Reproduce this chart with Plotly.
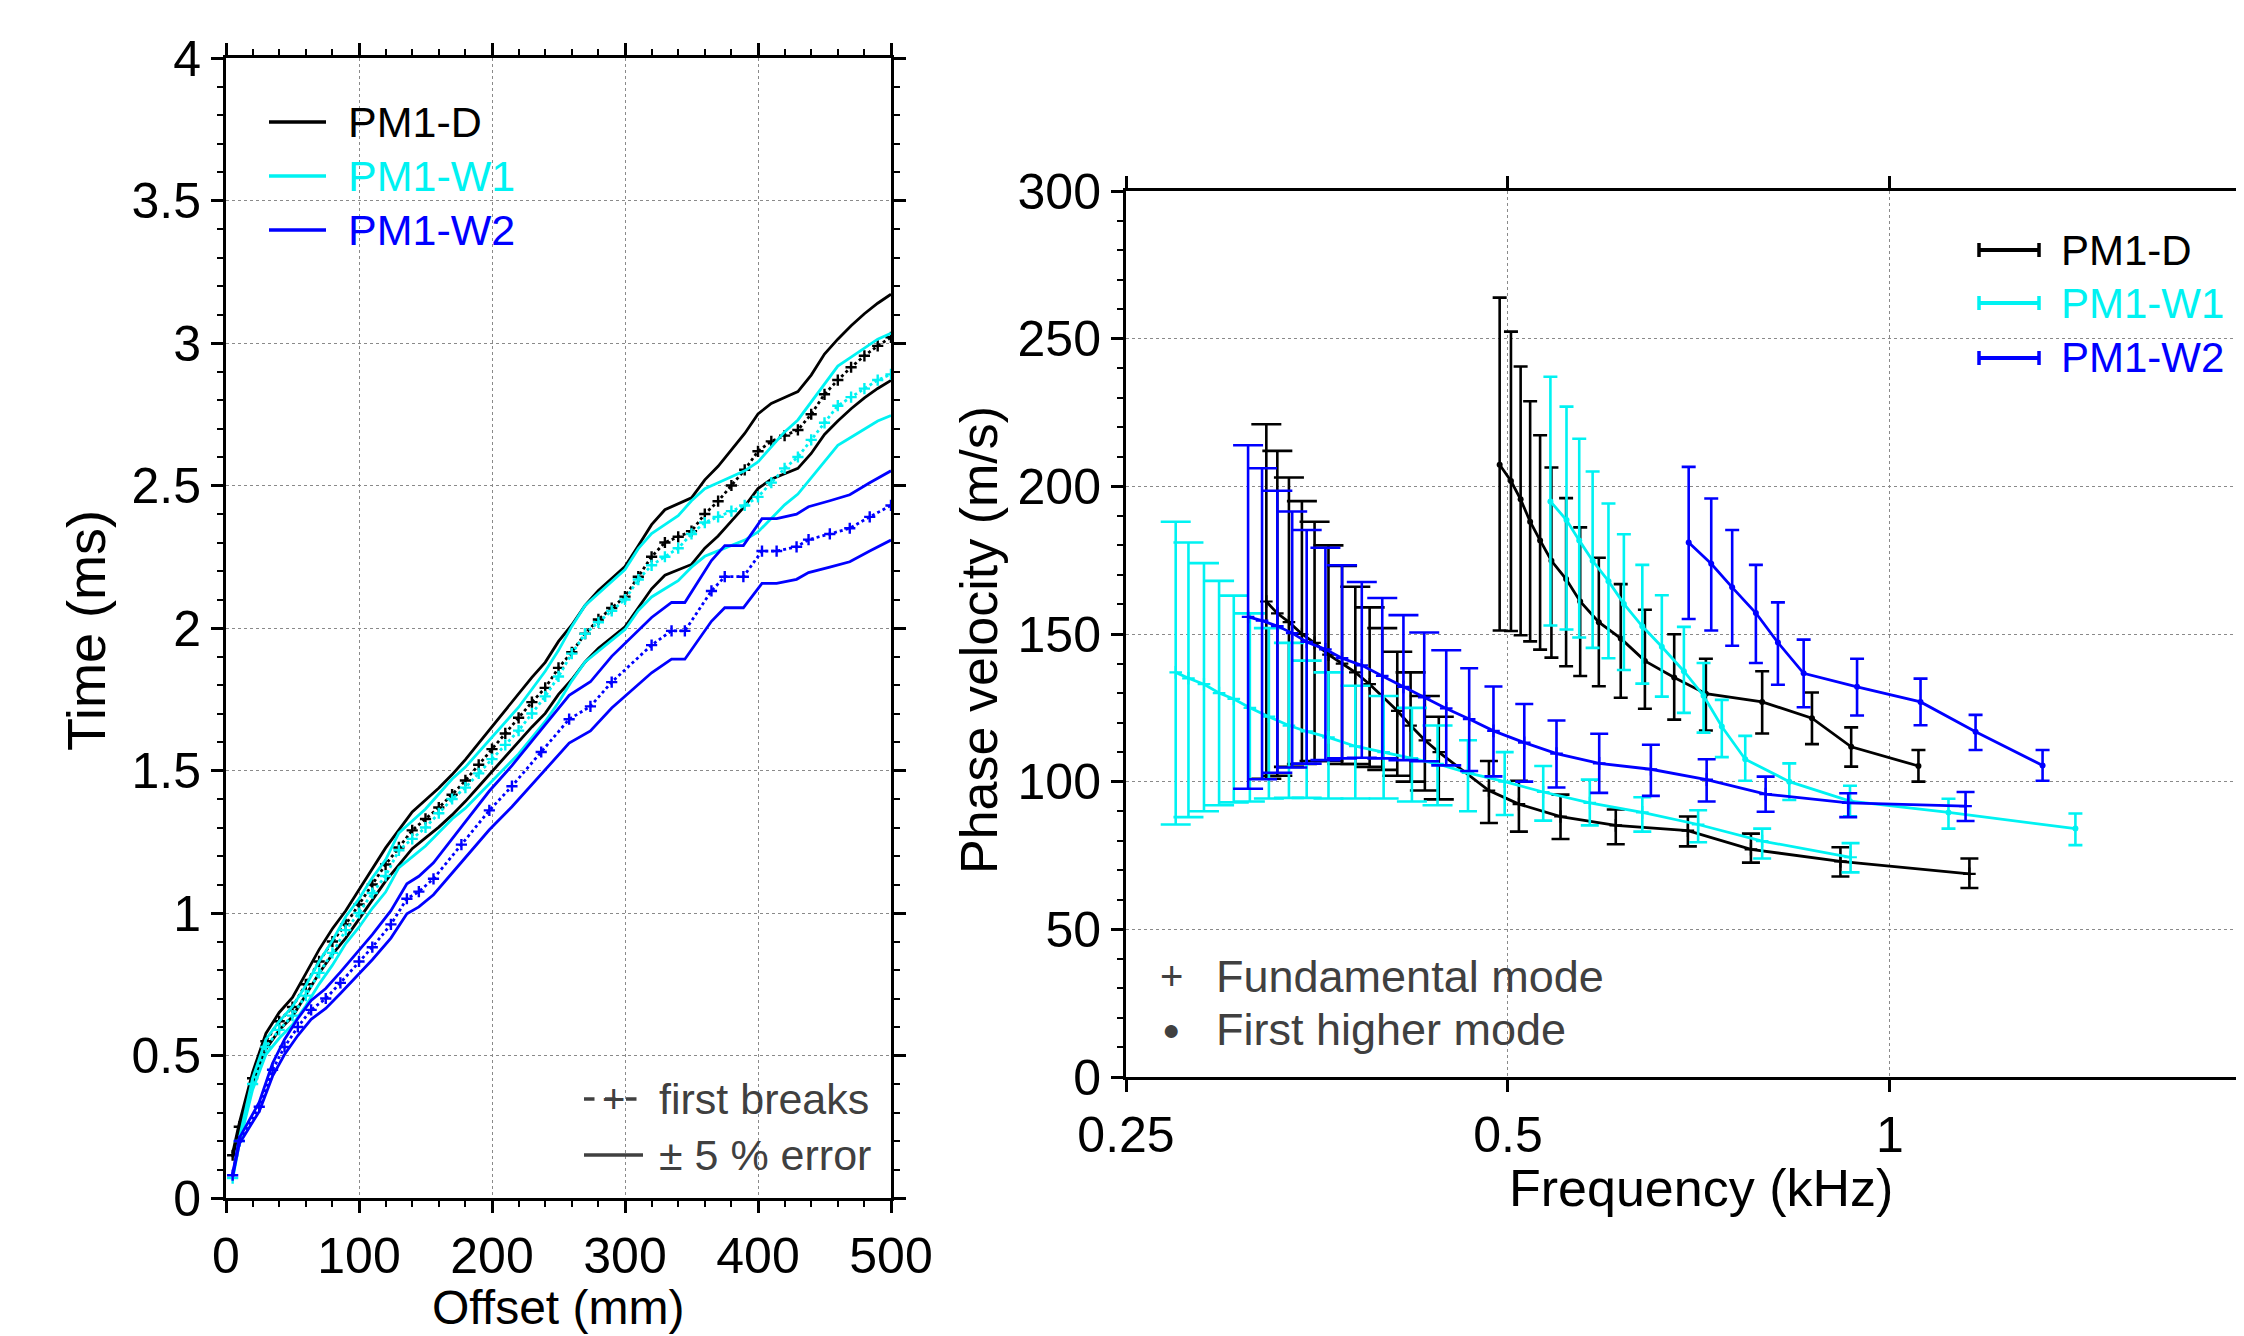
import math
import plotly.graph_objects as go

# Page size; the browser places the figure 8 px in from the top-left corner
PAGE_W, PAGE_H = 2244, 1336
OFF = 8
W, H = PAGE_W - OFF, PAGE_H - OFF

# ---------------- Left panel: first-break travel times ----------------
offset_D = [5] + list(range(10, 501, 10))
time_D = [0.15, 0.25, 0.42, 0.55, 0.62, 0.67, 0.75, 0.83, 0.90, 0.96,
          1.03, 1.10, 1.17, 1.23, 1.29, 1.33, 1.37, 1.415, 1.465, 1.52,
          1.575, 1.63, 1.685, 1.74, 1.79, 1.86, 1.915, 1.98, 2.03, 2.07,
          2.11, 2.18, 2.25, 2.30, 2.32, 2.34, 2.40, 2.445, 2.50, 2.555,
          2.62, 2.655, 2.675, 2.695, 2.75, 2.82, 2.87, 2.915, 2.955, 2.99,
          3.02]
offset_W1 = [5] + list(range(10, 501, 10))
time_W1 = [0.07, 0.20, 0.40, 0.53, 0.59, 0.64, 0.71, 0.79, 0.86, 0.94,
           1.00, 1.07, 1.13, 1.22, 1.26, 1.30, 1.35, 1.40, 1.44, 1.49,
           1.54, 1.59, 1.64, 1.70, 1.76, 1.83, 1.91, 1.98, 2.02, 2.06,
           2.10, 2.17, 2.22, 2.25, 2.28, 2.33, 2.37, 2.39, 2.41, 2.43,
           2.46, 2.51, 2.56, 2.60, 2.66, 2.72, 2.78, 2.81, 2.84, 2.87,
           2.89]
offset_W2 = [5, 10, 25, 35, 44, 54, 64, 75, 86, 100, 110, 124, 136, 145, 156,
             177, 198, 215, 237, 258, 274, 290, 320, 335, 345, 365, 375, 389,
             403, 414, 429, 438, 454, 469, 484, 500]
time_W2 = [0.08, 0.20, 0.32, 0.45, 0.53, 0.60, 0.66, 0.70, 0.755, 0.83, 0.88,
           0.96, 1.05, 1.075, 1.12, 1.24, 1.36, 1.445, 1.565, 1.68, 1.725,
           1.81, 1.94, 1.99, 1.99, 2.13, 2.18, 2.18, 2.27, 2.27, 2.285, 2.31,
           2.33, 2.35, 2.39, 2.43]
error_fraction = 0.05

# ---------------- Right panel: dispersion curves ----------------
# PM1-D
D_fund_f = [0.3225, 0.329, 0.336, 0.344, 0.352, 0.361, 0.370, 0.379, 0.389, 0.398, 0.409,
            0.419, 0.430, 0.441, 0.483, 0.510, 0.550, 0.608, 0.693, 0.777, 0.914, 1.155]
D_fund_v = [161, 157, 154, 150, 147, 143, 140, 137, 133, 129, 124,
            119, 114, 110, 97, 92.4, 88.2, 85.2, 83.4, 77.1, 73.0, 68.8]
D_fund_hi = [221, 212, 203, 195, 188, 180, 173, 166, 159, 152, 144,
             137, 129, 122, 107, 100.3, 95.6, 90.6, 88.2, 82.4, 77.8, 74.0]
D_fund_lo = [101, 102, 105, 106, 107, 107, 106, 106, 105, 104, 102,
             100, 97, 94, 86, 83.1, 80.6, 78.8, 78.1, 72.6, 67.9, 64.0]
D_high_f = [0.4925, 0.5027, 0.5116, 0.5205, 0.530, 0.541, 0.5556, 0.570, 0.5896,
            0.6135, 0.641, 0.676, 0.716, 0.793, 0.868, 0.932, 1.053]
D_high_v = [207.3, 201.8, 195.6, 188, 181.7, 174.8, 168.6, 161, 154,
            148.5, 140.9, 135.3, 129.8, 127, 121.5, 111.8, 105.3]
D_high_hi = [263.9, 252.4, 240.6, 228.8, 217.3, 206.4, 196, 186.1, 175.8,
             166.9, 158.2, 149.9, 141.6, 137.4, 130.2, 118.4, 110.7]
D_high_lo = [151.2, 151, 149.6, 147.5, 144.7, 142, 139.1, 135.8, 132.3,
             128.4, 124.7, 121, 117.3, 116.3, 112.7, 105.1, 100]

# PM1-W1
W1_fund_f = [0.2736, 0.280, 0.288, 0.296, 0.304, 0.313, 0.324, 0.336, 0.347, 0.361, 0.379,
             0.399, 0.420, 0.440, 0.465, 0.497, 0.533, 0.580, 0.638, 0.706, 0.793, 0.931]
W1_fund_v = [137, 135, 133, 130, 128, 125, 122, 119, 117, 115, 112,
             110, 108, 106, 103, 100, 96.5, 92.8, 89.6, 85.5, 79.9, 74.4]
W1_fund_hi = [188, 181, 174, 168, 163, 157, 152, 147, 141, 137, 132.5,
              129, 125, 119, 114, 110, 105.3, 100.7, 94.7, 90.3, 84.1, 79.2]
W1_fund_lo = [85.5, 88, 90, 92, 93, 93.3, 94.3, 94.5, 94.5, 94.3, 94.3,
              94.3, 93.3, 92, 90, 88.7, 86.8, 85.2, 83.1, 79.5, 74, 69.3]
W1_high_f = [0.540, 0.556, 0.569, 0.583, 0.600, 0.617, 0.638, 0.661, 0.688,
             0.713, 0.737, 0.769, 0.833, 0.930, 1.112, 1.40]
W1_high_v = [194.9, 188.6, 181.7, 174.8, 167.9, 160.2, 152.6, 145.7, 137.4,
             129.1, 118.7, 107.6, 100, 93.4, 89.6, 84.1]
W1_high_hi = [237.1, 227, 216.1, 205, 194.2, 183.8, 173.4, 163.1, 152.4,
              140.2, 127.7, 115.5, 106.2, 98.6, 94.2, 89.2]
W1_high_lo = [152.9, 151.5, 148.8, 145.3, 141.8, 137.8, 133.2, 128.8, 123.3,
              116.6, 108.3, 100.3, 93.8, 88.3, 84.1, 78.5]

# PM1-W2
W2_fund_f = [0.312, 0.320, 0.329, 0.338, 0.347, 0.359, 0.370, 0.3835, 0.398, 0.4136, 0.4295,
             0.447, 0.466, 0.487, 0.515, 0.546, 0.590, 0.648, 0.717, 0.798, 0.927, 1.147]
W2_fund_v = [155.8, 154.5, 152.7, 150.3, 147.3, 144.8, 141.8, 139.4, 135.8, 132.1, 128.5,
             124.8, 121.2, 117.2, 113.2, 109.5, 106.2, 104.2, 100.7, 95.8, 92.8, 91.7]
W2_fund_hi = [213.9, 206.1, 198.5, 191.5, 185.2, 179.2, 173.3, 167.6, 162.2, 156.4, 150.5,
              144.5, 138.4, 132.2, 126.3, 120.7, 116.2, 112.5, 107.6, 101.7, 96.1, 96.5]
W2_fund_lo = [97.6, 100.8, 103, 104.8, 106.1, 107.3, 107.9, 108.1, 107.9, 107.3, 106.9,
              105.5, 103.6, 101.8, 100, 98, 96.2, 95.2, 93.3, 89.8, 88, 86.7]
W2_high_f = [0.694, 0.723, 0.751, 0.784, 0.816, 0.855, 0.942, 1.057, 1.168, 1.319]
W2_high_v = [181, 173.8, 165.8, 157.1, 147.1, 136.7, 132.1, 127, 116.9, 105.5]
W2_high_hi = [206.6, 195.9, 185.2, 173.4, 160.7, 148.1, 141.6, 134.9, 122.6, 110.7]
W2_high_lo = [155.1, 151.2, 146, 140.2, 132.8, 125.2, 122.4, 119.1, 110.7, 100.3]

series_names = ["PM1-D", "PM1-W1", "PM1-W2"]
series_colors = ["#000000", "#00F2F2", "#0000FF"]

left_y_ticks = [0, 0.5, 1, 1.5, 2, 2.5, 3, 3.5, 4]
left_y_text = ["0", "0.5", "1", "1.5", "2", "2.5", "3", "3.5", "4"]
left_x_ticks = [0, 100, 200, 300, 400, 500]
right_x_ticks = [0.25, 0.5, 1]
right_x_text = ["0.25", "0.5", "1"]
right_y_ticks = [0, 50, 100, 150, 200, 250, 300]

FONT = "Liberation Sans, Arial, sans-serif"
GRAY_TXT = "#404040"

fig = go.Figure()

# ---- left panel traces
left_sets = [(offset_D, time_D), (offset_W1, time_W1), (offset_W2, time_W2)]
for (xo, tt), col in zip(left_sets, series_colors):
    up = [t * (1 + error_fraction) for t in tt]
    dn = [t * (1 - error_fraction) for t in tt]
    for arr in (up, dn):
        fig.add_trace(go.Scatter(x=xo, y=arr, mode="lines", xaxis="x", yaxis="y",
                                 line=dict(color=col, width=2.8), showlegend=False,
                                 hoverinfo="skip"))
    fig.add_trace(go.Scatter(x=xo, y=tt, mode="lines+markers", xaxis="x", yaxis="y",
                             line=dict(color=col, width=2.8, dash="dot"),
                             marker=dict(symbol="cross-thin", size=8,
                                         line=dict(color=col, width=2.4)),
                             showlegend=False))

# ---- right panel traces
def add_disp(f, v, hi, lo, col, symbol, caps, split=0.46):
    groups = [([i for i, fi in enumerate(f) if fi < split], caps[0]),
              ([i for i, fi in enumerate(f) if fi >= split], caps[1])]
    for idx, w in groups:
        if not idx:
            continue
        fig.add_trace(go.Scatter(
            x=[f[i] for i in idx], y=[v[i] for i in idx], mode="markers",
            xaxis="x2", yaxis="y2", showlegend=False, hoverinfo="skip",
            marker=dict(size=1, color="rgba(0,0,0,0)"),
            error_y=dict(type="data", symmetric=False,
                         array=[hi[i] - v[i] for i in idx],
                         arrayminus=[v[i] - lo[i] for i in idx],
                         color=col, thickness=2.6, width=w)))
    if symbol == "plus":
        mk = dict(symbol="cross-thin", size=9, line=dict(color=col, width=2.2))
    else:
        mk = dict(symbol="circle", size=6, color=col)
    fig.add_trace(go.Scatter(x=f, y=v, mode="lines+markers", xaxis="x2", yaxis="y2",
                             line=dict(color=col, width=2.8), marker=mk,
                             showlegend=False))

disp = [
    [(D_fund_f, D_fund_v, D_fund_hi, D_fund_lo, "plus"),
     (D_high_f, D_high_v, D_high_hi, D_high_lo, "dot")],
    [(W1_fund_f, W1_fund_v, W1_fund_hi, W1_fund_lo, "plus"),
     (W1_high_f, W1_high_v, W1_high_hi, W1_high_lo, "dot")],
    [(W2_fund_f, W2_fund_v, W2_fund_hi, W2_fund_lo, "plus"),
     (W2_high_f, W2_high_v, W2_high_hi, W2_high_lo, "dot")],
]
for modes, col in zip(disp, series_colors):
    for f, v, hi, lo, sym in modes:
        caps = (15, 9) if sym == "plus" else (7, 7)
        add_disp(f, v, hi, lo, col, sym, caps)

# ---- page-pixel -> paper conversion
def px_x(x):
    return (x - OFF) / W

def px_y(y):
    return 1 - (y - OFF) / H

common = dict(showline=True, linecolor="black", linewidth=3, ticks="outside",
              ticklen=12, tickwidth=2.5, tickcolor="black", zeroline=False,
              automargin=False,
              showgrid=True, gridcolor="#8a8a8a", gridwidth=1.2, griddash="dot",
              tickfont=dict(family=FONT, size=50, color="black"))

fig.update_layout(
    width=W, height=H, autosize=False,
    margin=dict(l=0, r=0, t=0, b=0, pad=0),
    paper_bgcolor="white", plot_bgcolor="white",
    font=dict(family=FONT, color="black"),
    showlegend=False,
    xaxis=dict(domain=[px_x(226), px_x(891)], range=[0, 500], tickvals=left_x_ticks,
               mirror="allticks", anchor="y",
               minor=dict(dtick=20, ticklen=6, tickwidth=2, ticks="outside",
                          tickcolor="black", showgrid=False), **common),
    yaxis=dict(domain=[px_y(1198), px_y(58)], range=[0, 4], tickvals=left_y_ticks,
               ticktext=left_y_text, mirror="allticks", anchor="x",
               minor=dict(dtick=0.1, ticklen=6, tickwidth=2, ticks="outside",
                          tickcolor="black", showgrid=False), **common),
    xaxis2=dict(domain=[px_x(1126), 1.0], type="log",
                range=[math.log10(0.25), math.log10(1.901)],
                tickvals=right_x_ticks, ticktext=right_x_text, mirror="ticks",
                anchor="y2", **common),
    yaxis2=dict(domain=[px_y(1077), px_y(191)], range=[0, 300], tickvals=right_y_ticks,
                mirror=False, anchor="x2",
                minor=dict(dtick=10, ticklen=6, tickwidth=2, ticks="outside",
                           tickcolor="black", showgrid=False), **common),
)

ann = []
shapes = []

def text(x, y, s, size, color="black", xanchor="left", angle=0):
    ann.append(dict(x=px_x(x), y=px_y(y), xref="paper", yref="paper", text=s,
                    showarrow=False, xanchor=xanchor, yanchor="middle",
                    textangle=angle, font=dict(family=FONT, size=size, color=color)))

def hline(x0, x1, y, color, width, dash="solid"):
    shapes.append(dict(type="line", xref="paper", yref="paper", x0=px_x(x0), x1=px_x(x1),
                       y0=px_y(y), y1=px_y(y),
                       line=dict(color=color, width=width, dash=dash)))

def vline(x, y0, y1, color, width):
    shapes.append(dict(type="line", xref="paper", yref="paper", x0=px_x(x), x1=px_x(x),
                       y0=px_y(y0), y1=px_y(y1), line=dict(color=color, width=width)))

# axis titles
text(558, 1307, "Offset (mm)", 48, xanchor="center")
text(86, 631, "Time (ms)", 54, xanchor="center", angle=-90)
text(1701, 1188, "Frequency (kHz)", 52, xanchor="center")
text(979, 640, "Phase velocity (m/s)", 52, xanchor="center", angle=-90)

# left legend
for i, (nm, col) in enumerate(zip(series_names, series_colors)):
    y = [122, 176, 230][i]
    hline(269, 326, y, col, 3.5)
    text(346, y, nm, 43, color=col)

# left bottom legend
hline(584, 643, 1099, GRAY_TXT, 3.5, dash="dash")
text(613, 1099, "+", 40, color=GRAY_TXT, xanchor="center")
text(657, 1099, "first breaks", 43, color=GRAY_TXT)
hline(584, 643, 1155, GRAY_TXT, 3.5)
text(657, 1155, "± 5 % error", 43, color=GRAY_TXT)

# right legend
for i, (nm, col) in enumerate(zip(series_names, series_colors)):
    y = [250, 303, 358][i]
    hline(1979, 2039, y, col, 4)
    vline(1979, y - 7, y + 7, col, 3.5)
    vline(2039, y - 7, y + 7, col, 3.5)
    text(2059, y, nm, 42, color=col)

# right bottom mode key
text(1171, 976, "+", 40, color=GRAY_TXT, xanchor="center")
text(1171, 1029, "●", 30, color=GRAY_TXT, xanchor="center")
text(1214, 976, "Fundamental mode", 45, color=GRAY_TXT)
text(1214, 1029, "First higher mode", 45, color=GRAY_TXT)

fig.update_layout(annotations=ann, shapes=shapes)
fig.write_html("out.html")
